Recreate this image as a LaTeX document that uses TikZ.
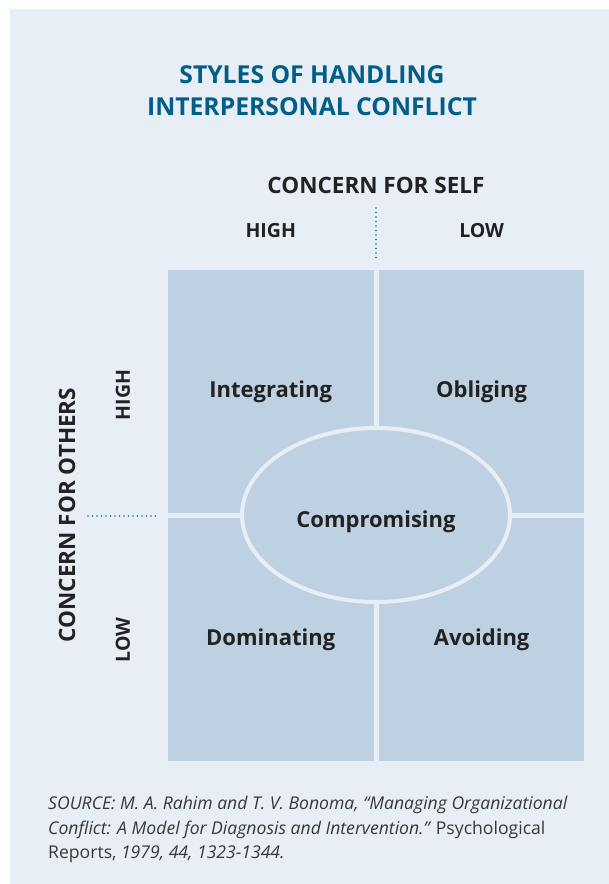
\documentclass[tikz,border=0pt]{standalone}
\usepackage{fontspec}
\setmainfont{Open Sans}
\usetikzlibrary{positioning,shapes.geometric}

\definecolor{panelbg}{HTML}{E7EEF5}
\definecolor{cellfill}{HTML}{BED1E2}
\definecolor{titleblue}{HTML}{005E88}
\definecolor{dotblue}{HTML}{1F6E99}
\definecolor{inktext}{HTML}{222222}

\tikzset{
    quad/.style={fill=cellfill, minimum width=205.5pt, minimum height=243pt,
        inner sep=0pt, text=inktext, font=\fontsize{22}{26}\selectfont\bfseries},
    axislabel/.style={text=inktext, font=\fontsize{22.5}{27}\selectfont\bfseries},
    levellabel/.style={text=inktext, font=\fontsize{19.5}{23}\selectfont\bfseries},
    dotline/.style={dotblue, line width=1.8pt, line cap=round,
        dash pattern=on 0pt off 4.5pt}
}

\begin{document}
\begin{tikzpicture}[x=1pt,y=-1pt]
        % Page and panel
        \useasboundingbox (0,0) rectangle (609,884);
        \fill[panelbg] (10,9) rectangle (609,884);

        % Title
        \node (title) at (312,91) [align=center, text=titleblue,
            font=\fontsize{24.7}{32}\selectfont\bfseries]
            {STYLES OF HANDLING\\INTERPERSONAL CONFLICT};

        % The four cells
        \node[quad] (integ) at (270.75,391.5) {Integrating};
        \node[quad, right=5pt of integ] (oblig) {Obliging};
        \node[quad, below=5pt of integ] (domin) {Dominating};
        \node[quad, right=5pt of domin] (avoid) {Avoiding};

        % Middle style
        \node[ellipse, fill=cellfill, draw=panelbg, line width=4pt,
            minimum width=268pt, minimum height=174pt, inner sep=0pt]
            (compr) at (376,515) {};
        \node[text=inktext, font=\fontsize{22}{26}\selectfont\bfseries]
            (comprtext) at ([yshift=-7pt]compr.center) {Compromising};

        % Axis labels
        \node[axislabel] (self) at (376,185) {CONCERN FOR SELF};
        \node[levellabel] (selfhigh) at (integ.north |- 0,231) {HIGH};
        \node[levellabel] (selflow) at (oblig.north |- 0,231) {LOW};
        \node[axislabel, rotate=90] (others) at (67,515) {CONCERN FOR OTHERS};
        \node[levellabel, rotate=90] (othhigh) at (123,395) {HIGH};
        \node[levellabel, rotate=90] (othlow) at (123,640) {LOW};

        % Dotted dividers
        \coordinate (vtop) at (376,208);
        \coordinate (vbot) at (376,261);
        \coordinate (hleft) at (88,516);
        \coordinate (hright) at (160,516);
        \draw[dotline] (vtop) -- (vbot);
        \draw[dotline] (hleft) -- (hright);

        % Source
        \node (source) at (48,796) [anchor=north west, align=left, inner sep=0pt,
            text=inktext!90, font=\fontsize{17.6}{24.5}\selectfont]
            {\itshape SOURCE: M. A. Rahim and T. V. Bonoma, “Managing Organizational\\
             \itshape Conflict: A Model for Diagnosis and Intervention.” \upshape Psychological\\
             Reports, \itshape 1979, 44, 1323-1344.};
    \end{tikzpicture}
\end{document}
